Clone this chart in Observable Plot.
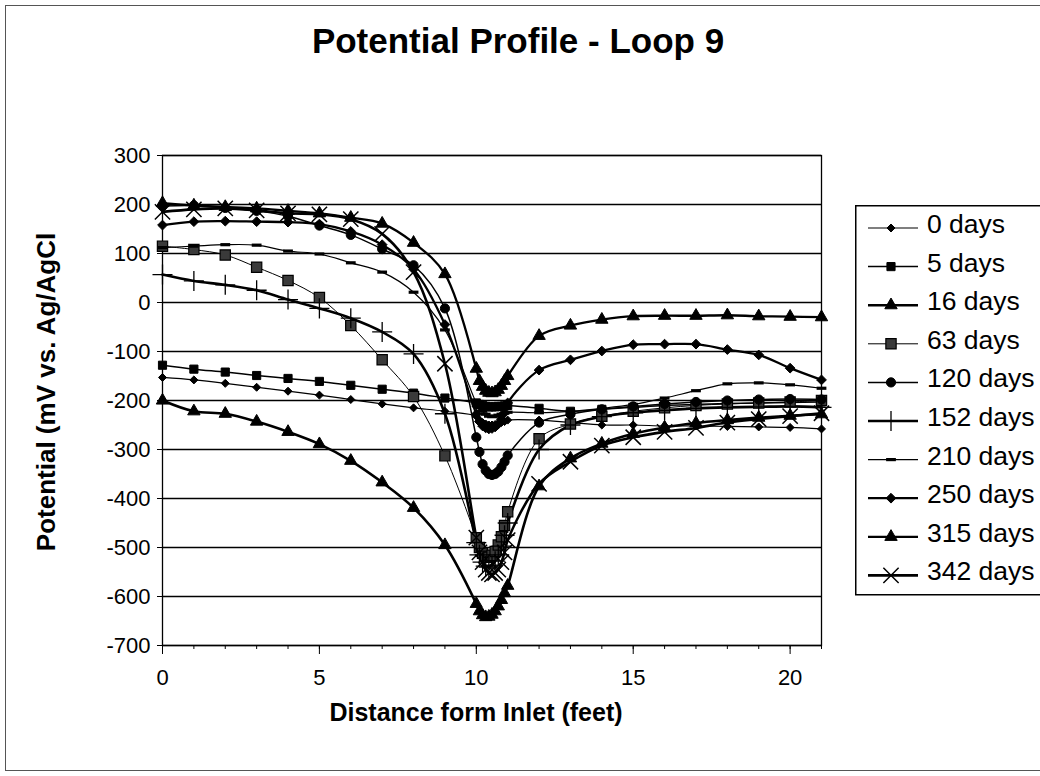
<!DOCTYPE html>
<html>
<head>
<meta charset="utf-8">
<script src="https://cdn.jsdelivr.net/npm/d3@7"></script>
<script src="https://cdn.jsdelivr.net/npm/@observablehq/plot@0.6"></script>
<style>
  html, body { margin: 0; padding: 0; background: #fff; }
  #wrap { position: relative; width: 1040px; height: 776px; overflow: hidden; font-family: "Liberation Sans", Arial, sans-serif; color: #000; }
  #chart { position: absolute; left: 0; top: 0; }
  .abs { position: absolute; white-space: nowrap; }
  #title { left: 518px; top: 41px; transform: translate(-50%, -50%); font-weight: bold; font-size: 35px; }
  #xtitle { left: 476px; top: 712px; transform: translate(-50%, -50%); font-weight: bold; font-size: 25px; }
  #ytitle { left: 46px; top: 392px; transform: translate(-50%, -50%) rotate(-90deg); font-weight: bold; font-size: 26px; }
  #border { position: absolute; left: 5px; top: 5px; width: 1100px; height: 764px; border: 1px solid #555; }
  #legend { position: absolute; left: 855px; top: 205px; }
</style>
</head>
<body>
<div id="wrap">
  <div id="border"></div>
  <div id="chart"></div>
  <div id="title" class="abs">Potential Profile - Loop 9</div>
  <div id="xtitle" class="abs">Distance form Inlet (feet)</div>
  <div id="ytitle" class="abs">Potential (mV vs. Ag/AgCl</div>
  <svg id="legend" width="190" height="393"></svg>
</div>
<script>
// ---- data ----
const distance = [0,1,2,3,4,5,6,7,8,9,10,10.1,10.2,10.3,10.4,10.5,10.6,10.7,10.8,10.9,11,12,13,14,15,16,17,18,19,20,21];
const seriesNames = ["0 days","5 days","16 days","63 days","120 days","152 days","210 days","250 days","315 days","342 days"];
const days0   = [-153,-158,-165,-173,-181,-189,-198,-207,-215,-222,-232,-240,-245,-248,-250,-250,-249,-247,-245,-243,-240,-240,-245,-250,-250,-252,-252,-253,-254,-255,-258];
const days5   = [-128,-136,-142,-149,-155,-161,-169,-177,-185,-195,-205,-208,-210,-212,-213,-213,-213,-212,-212,-211,-210,-216,-222,-218,-214,-210,-208,-206,-205,-204,-203];
const days16  = [-200,-222,-227,-243,-264,-289,-323,-367,-419,-495,-615,-630,-638,-642,-641,-637,-630,-620,-607,-593,-578,-375,-318,-288,-268,-255,-246,-240,-235,-231,-228];
const days63  = [115,108,97,72,45,10,-47,-117,-192,-313,-480,-500,-512,-518,-520,-516,-508,-495,-478,-455,-427,-278,-248,-232,-222,-215,-210,-207,-205,-203,-200];
const days120 = [197,198,193,187,176,157,138,109,76,-12,-275,-305,-330,-343,-350,-352,-350,-345,-336,-325,-312,-245,-228,-218,-212,-207,-203,-200,-198,-197,-198];
const days152 = [57,44,36,25,6,-12,-32,-60,-105,-227,-490,-515,-530,-538,-540,-536,-528,-515,-497,-475,-450,-300,-250,-233,-225,-220,-216,-214,-213,-212,-214];
const days210 = [112,115,118,117,105,99,81,62,21,-56,-205,-215,-222,-228,-232,-233,-232,-230,-228,-226,-224,-225,-222,-216,-208,-195,-180,-166,-164,-168,-175];
const days250 = [158,165,166,165,164,160,145,118,68,-45,-228,-243,-252,-256,-258,-257,-254,-248,-238,-225,-205,-138,-117,-99,-86,-85,-85,-96,-107,-134,-158];
const days315 = [203,198,195,192,187,182,173,161,122,58,-135,-160,-172,-180,-184,-185,-183,-178,-170,-160,-150,-68,-47,-35,-28,-27,-27,-26,-28,-29,-30];
const days342 = [185,190,192,188,182,180,170,140,62,-125,-480,-510,-530,-545,-552,-555,-552,-545,-530,-510,-485,-370,-325,-292,-275,-264,-256,-245,-238,-232,-226];
const yTicks = [-700,-600,-500,-400,-300,-200,-100,0,100,200,300];
const xTicks = [0,5,10,15,20];

// ---- styles ----
const dash = { draw(ctx, size) { const w = Math.sqrt(size) * 0.6; ctx.moveTo(-w, -1.6); ctx.lineTo(w, -1.6); ctx.lineTo(w, 1.6); ctx.lineTo(-w, 1.6); ctx.closePath(); } };
const styles = [
  {symbol: "diamond2", r: 3.6, lw: 1.2, fill: "black", stroke: "black", sw: 1},
  {symbol: "square",   r: 4.6, lw: 1.5, fill: "black", stroke: "black", sw: 1},
  {symbol: "triangle", r: 4.6, lw: 2.6, fill: "black", stroke: "black", sw: 1},
  {symbol: "square",   r: 5.8, lw: 1.0, fill: "#3a3a3a", stroke: "black", sw: 1.2},
  {symbol: "circle",   r: 4.6, lw: 1.5, fill: "black", stroke: "black", sw: 1},
  {symbol: "plus",     r: 6.5, lw: 2.6, fill: "none",  stroke: "black", sw: 1.3},
  {symbol: dash,       r: 4.6, lw: 1.2, fill: "black", stroke: "none",  sw: 0},
  {symbol: "diamond2", r: 4.4, lw: 2.3, fill: "black", stroke: "black", sw: 1},
  {symbol: "triangle", r: 4.6, lw: 2.3, fill: "black", stroke: "black", sw: 1},
  {symbol: "times",    r: 7.0, lw: 2.6, fill: "none",  stroke: "black", sw: 1.5}
];
const values = [days0, days5, days16, days63, days120, days152, days210, days250, days315, days342];
const tables = values.map((vals, i) => distance.map((d, j) => ({series: seriesNames[i], x: d, y: vals[j]})));

const marks = [
  Plot.gridY(yTicks, {stroke: "black", strokeOpacity: 1, strokeWidth: 1.3}),
  Plot.frame({stroke: "black", strokeWidth: 1.3}),
  Plot.axisY(yTicks, {tickSize: 5, tickPadding: 7, label: null, fontSize: 22, tickFormat: d => String(d)}),
  Plot.axisX(d3.range(0, 22), {tickSize: 4, tickFormat: () => "", label: null}),
  Plot.axisX(xTicks, {tickSize: 9, tickPadding: 15, label: null, fontSize: 22, tickFormat: d => String(d)})
];
tables.forEach((t, i) => {
  const s = styles[i];
  marks.push(Plot.line(t, {x: "x", y: "y", curve: "catmull-rom", stroke: "black", strokeWidth: s.lw}));
});
tables.forEach((t, i) => {
  const s = styles[i];
  marks.push(Plot.dot(t, {x: "x", y: "y", symbol: s.symbol, r: s.r, fill: s.fill, stroke: s.stroke, strokeWidth: s.sw}));
});

const chart = Plot.plot({
  width: 1040, height: 776,
  marginLeft: 162, marginRight: 219, marginTop: 155, marginBottom: 131,
  x: {domain: [0, 21]},
  y: {domain: [-700, 300]},
  style: {fontFamily: "'Liberation Sans', Arial, sans-serif", fontSize: "22px", color: "black", background: "transparent", overflow: "visible"},
  marks
});
document.getElementById("chart").appendChild(chart);

// ---- legend ----
const lg = d3.select("#legend");
lg.append("rect").attr("x", 0.75).attr("y", 0.75).attr("width", 260).attr("height", 389).attr("fill", "white").attr("stroke", "black").attr("stroke-width", 1.5);
seriesNames.forEach((name, i) => {
  const s = styles[i];
  const ly = 23 + i * 38.6;
  const g = lg.append("g");
  g.append("line").attr("x1", 13).attr("x2", 63).attr("y1", ly).attr("y2", ly).attr("stroke", "black").attr("stroke-width", s.lw);
  const type = typeof s.symbol === "string"
    ? ({diamond2: d3.symbolDiamond2, square: d3.symbolSquare, triangle: d3.symbolTriangle, circle: d3.symbolCircle, plus: d3.symbolPlus, times: d3.symbolTimes})[s.symbol]
    : s.symbol;
  g.append("path").attr("transform", `translate(36,${ly})`)
    .attr("d", d3.symbol(type, Math.PI * s.r * s.r)())
    .attr("fill", s.fill).attr("stroke", s.stroke).attr("stroke-width", s.sw);
  g.append("text").attr("x", 72).attr("y", ly + 5).attr("font-size", 26.5).attr("font-family", "'Liberation Sans', Arial, sans-serif").text(name);
});
</script>
</body>
</html>
